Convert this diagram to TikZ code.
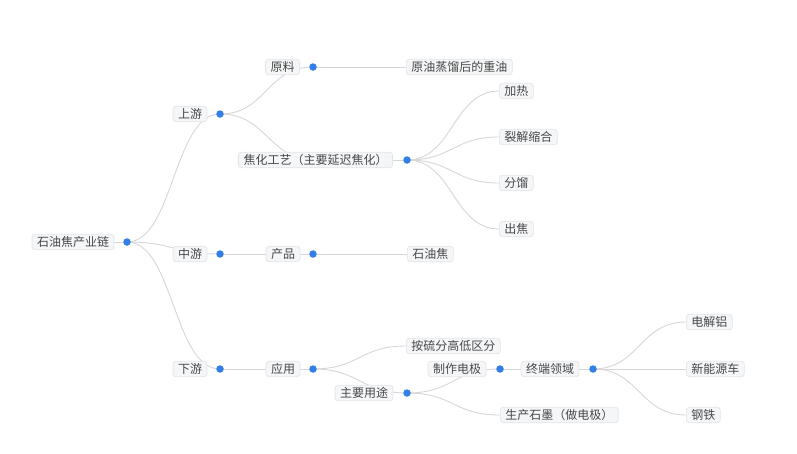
\documentclass[tikz,border=0pt]{standalone}
\usepackage{fontspec}
\newfontfamily\cjk{Noto Sans CJK SC}
\usetikzlibrary{backgrounds}
\definecolor{boxfill}{RGB}{245,246,248}
\definecolor{boxline}{RGB}{226,228,232}
\definecolor{txt}{RGB}{72,72,72}
\definecolor{dotblue}{RGB}{50,127,232}
\definecolor{linkgray}{RGB}{214,214,218}
\tikzset{
  topic/.style={draw=boxline, line width=0.7pt, fill=boxfill, rounded corners=3pt,
    text=txt, font=\cjk\fontsize{12}{14}\selectfont, inner xsep=5pt, inner ysep=1.5pt,
    minimum height=15.5pt},
  leaf/.style={topic, anchor=west},
  knob/.style={circle, fill=dotblue, inner sep=0pt, minimum size=7.5pt},
  link/.style={draw=linkgray, line width=0.9pt}
}
\begin{document}
\begin{tikzpicture}[x=1pt, y=-1pt]
\useasboundingbox (0,0) rectangle (797,453);
% main nodes
\node[topic] (root) at (73,242) {石油焦产业链};
\node[knob] (droot) at (127,242) {};
\node[topic] (up) at (190,114) {上游};
\node[knob] (dup) at (220,114) {};
\node[topic] (mid) at (190,254) {中游};
\node[knob] (dmid) at (220,254) {};
\node[topic] (down) at (190,369) {下游};
\node[knob] (ddown) at (220,369) {};
\node[topic] (raw) at (282.5,67) {原料};
\node[knob] (draw) at (313,67) {};
\node[topic] (coke) at (315.5,160) {焦化工艺（主要延迟焦化）};
\node[knob] (dcoke) at (407,160) {};
\node[topic] (prod) at (283,254) {产品};
\node[knob] (dprod) at (313,254) {};
\node[topic] (app) at (283,369) {应用};
\node[knob] (dapp) at (313,369) {};
\node[leaf] (oil) at (406,67) {原油蒸馏后的重油};
\node[leaf] (heat) at (499,91) {加热};
\node[leaf] (crack) at (499,137) {裂解缩合};
\node[leaf] (frac) at (499,183) {分馏};
\node[leaf] (out) at (499,229) {出焦};
\node[leaf] (pc) at (407,254) {石油焦};
\node[leaf] (sulf) at (406,346) {按硫分高低区分};
\node[topic] (use) at (364,393) {主要用途};
\node[knob] (duse) at (407,393) {};
\node[topic] (elec) at (457,369) {制作电极};
\node[knob] (delec) at (500,369) {};
\node[leaf] (graph) at (500,415) {生产石墨（做电极）};
\node[topic] (term) at (550,369) {终端领域};
\node[knob] (dterm) at (593,369) {};
\node[leaf] (al) at (686,322) {电解铝};
\node[leaf] (nev) at (686,369) {新能源车};
\node[leaf] (steel) at (686,415) {钢铁};
% connectors
\begin{pgfonlayer}{background}
\draw[link] (droot.center) .. controls +(46.5,0) and +(-46.5,0) .. (dup.center);
\draw[link] (droot.center) .. controls +(46.5,0) and +(-46.5,0) .. (dmid.center);
\draw[link] (droot.center) .. controls +(46.5,0) and +(-46.5,0) .. (ddown.center);
\draw[link] (root.east) -- (droot.center);
\draw[link] (dup.center) .. controls +(46.5,0) and +(-46.5,0) .. (draw.center);
\draw[link] (dup.center) .. controls +(47.5,0) and +(-47.5,0) .. (coke.center);
\draw[link] (coke.center) -- (dcoke.center);
\draw[link] (dmid.center) -- (dprod.center);
\draw[link] (ddown.center) -- (dapp.center);
\draw[link] (draw.center) -- (oil.west);
\draw[link] (dcoke.center) .. controls +(46,0) and +(-46,0) .. (heat.west);
\draw[link] (dcoke.center) .. controls +(46,0) and +(-46,0) .. (crack.west);
\draw[link] (dcoke.center) .. controls +(46,0) and +(-46,0) .. (frac.west);
\draw[link] (dcoke.center) .. controls +(46,0) and +(-46,0) .. (out.west);
\draw[link] (dprod.center) -- (pc.west);
\draw[link] (dapp.center) .. controls +(46.5,0) and +(-46.5,0) .. (sulf.west);
\draw[link] (dapp.center) .. controls +(47,0) and +(-47,0) .. (duse.center);
\draw[link] (duse.center) .. controls +(46.5,0) and +(-46.5,0) .. (delec.center);
\draw[link] (duse.center) .. controls +(46.5,0) and +(-46.5,0) .. (graph.west);
\draw[link] (delec.center) -- (dterm.center);
\draw[link] (dterm.center) .. controls +(46.5,0) and +(-46.5,0) .. (al.west);
\draw[link] (dterm.center) -- (nev.west);
\draw[link] (dterm.center) .. controls +(46.5,0) and +(-46.5,0) .. (steel.west);
\end{pgfonlayer}
\end{tikzpicture}
\end{document}
